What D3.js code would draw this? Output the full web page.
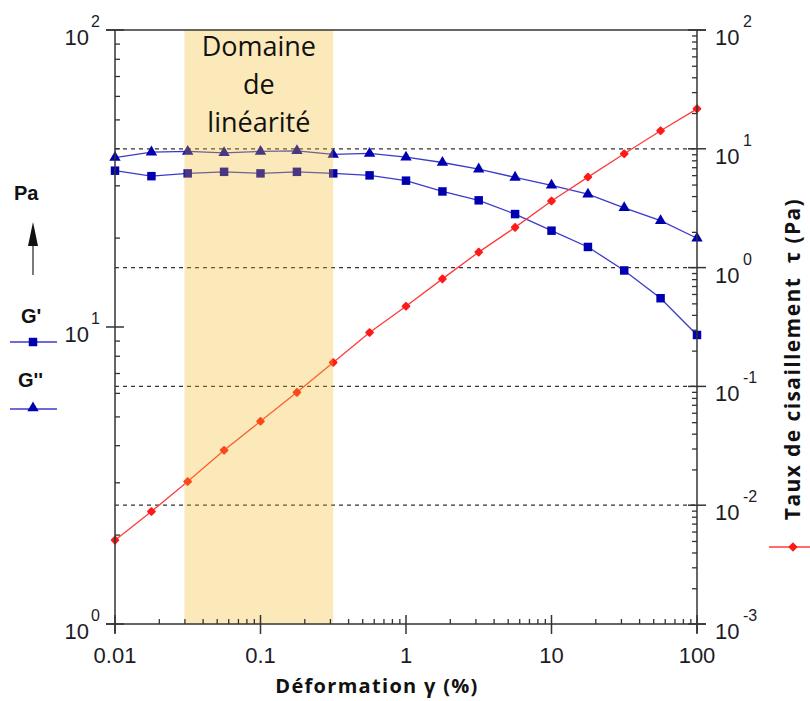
<!DOCTYPE html>
<html>
<head>
<meta charset="utf-8">
<script src="https://cdn.jsdelivr.net/npm/d3@7"></script>
<style>
  body { margin: 0; background: #fff; }
  svg { display: block; }
  .tick-lbl { font-family: "Liberation Sans", Arial, sans-serif; fill: #1c1c28; }
  .title { font-family: "Open Sans", sans-serif; font-weight: bold; fill: #111; white-space: pre; }
  .leg { font-family: "Liberation Sans", Arial, sans-serif; font-weight: bold; fill: #111; }
</style>
</head>
<body>
<svg width="810" height="701"></svg>
<script>
// strain sweep, 4 points per decade
const strain = [0.01, 0.0178, 0.0316, 0.0562, 0.1, 0.178, 0.316, 0.562, 1, 1.78, 3.16, 5.62, 10, 17.8, 31.6, 56.2, 100]
const gPrime = [33.6, 32.2, 32.9, 33.3, 32.9, 33.3, 32.9, 32.4, 31.1, 28.6, 26.7, 24.0, 21.1, 18.6, 15.5, 12.5, 9.4]
const gSecond = [37.2, 38.8, 39.0, 38.6, 39.0, 39.2, 38.1, 38.4, 37.3, 35.8, 34.0, 31.9, 30.0, 28.0, 25.2, 22.8, 19.9]
const tau = [0.00508, 0.00885, 0.0158, 0.029, 0.0508, 0.0891, 0.159, 0.284, 0.473, 0.804, 1.35, 2.18, 3.64, 5.78, 9.08, 14.2, 21.7]

const linearRange = [0.03, 0.316]
const xTicks = [0.01, 0.1, 1, 10, 100]
const xTickLabels = ["0.01", "0.1", "1", "10", "100"]
const leftExp = [0, 1, 2]
const rightExp = [-3, -2, -1, 0, 1, 2]

const m = { top: 30, bottom: 624, left: 115, right: 697 }

const svg = d3.select("svg")

let x = d3.scaleLog([0.01, 100], [m.left, m.right])
let yL = d3.scaleLog([1, 100], [m.bottom, m.top])
let yR = d3.scaleLog([0.001, 100], [m.bottom, m.top])

const minors = (exps) => {
  let out = []
  exps.slice(0, -1).forEach(e => {
    for (let k = 2; k <= 9; k++) out.push(k * Math.pow(10, e))
  })
  return out
}

const axisColor = "#333"

// dashed grid at the right axis decades
svg.append("g").selectAll("line")
  .data([10, 1, 0.1, 0.01])
  .join("line")
  .attr("x1", m.left).attr("x2", m.right)
  .attr("y1", d => yR(d)).attr("y2", d => yR(d))
  .style("stroke", "#333")
  .style("stroke-width", 1.3)
  .style("stroke-dasharray", "4,4")

// series
let line = (ys, yscale) => d3.line()
  .x((d, i) => x(strain[i]))
  .y(d => yscale(d))(ys)

svg.append("path").attr("d", line(gPrime, yL))
  .style("fill", "none").style("stroke", "#3a3acc").style("stroke-width", 1.3)
svg.append("path").attr("d", line(gSecond, yL))
  .style("fill", "none").style("stroke", "#3a3acc").style("stroke-width", 1.3)
svg.append("path").attr("d", line(tau, yR))
  .style("fill", "none").style("stroke", "#ff3b3b").style("stroke-width", 1.3)

let sq = d3.symbol(d3.symbolSquare, 72)
let tri = d3.symbol(d3.symbolTriangle, 56)
let dia = d3.symbol(d3.symbolSquare, 22)

svg.append("g").selectAll("path").data(gPrime).join("path")
  .attr("d", sq)
  .attr("transform", (d, i) => `translate(${x(strain[i])},${yL(d)})`)
  .style("fill", "#0000b0")
svg.append("g").selectAll("path").data(gSecond).join("path")
  .attr("d", tri)
  .attr("transform", (d, i) => `translate(${x(strain[i])},${yL(d)})`)
  .style("fill", "#0000b0")
svg.append("g").selectAll("path").data(tau).join("path")
  .attr("d", dia)
  .attr("transform", (d, i) => `translate(${x(strain[i])},${yR(d)}) rotate(45)`)
  .style("fill", "#ff1a1a")
  .style("stroke", "#ff1a1a").style("stroke-width", 2).style("stroke-linejoin", "round")

// linear domain band (drawn over the curves, translucent)
svg.append("rect")
  .attr("x", x(linearRange[0]))
  .attr("width", x(linearRange[1]) - x(linearRange[0]))
  .attr("y", m.top)
  .attr("height", m.bottom - m.top)
  .style("fill", "rgb(245,182,22)")
  .style("opacity", 0.3)

const cx = (x(linearRange[0]) + x(linearRange[1])) / 2
svg.append("text")
  .attr("x", cx).attr("y", 56)
  .attr("text-anchor", "middle")
  .style("font-family", "'Open Sans', sans-serif")
  .style("font-size", "27px")
  .style("fill", "#111")
  .selectAll("tspan")
  .data(["Domaine", "de", "linéarité"])
  .join("tspan")
  .attr("x", cx)
  .attr("dy", (d, i) => i == 0 ? 0 : 38)
  .text(d => d)

// frame
let append_line = (x1, y1, x2, y2, w) => {
  svg.append("line")
    .attr("x1", x1).attr("y1", y1).attr("x2", x2).attr("y2", y2)
    .style("stroke", axisColor).style("stroke-width", w || 1.5)
}
append_line(m.left - 9, m.top, m.right + 9, m.top)
append_line(m.left - 9, m.bottom, m.right + 9, m.bottom)
append_line(m.left, m.top, m.left, m.bottom + 9)
append_line(m.right, m.top, m.right, m.bottom + 9)

// minor ticks, pointing inside
svg.append("g")
  .attr("transform", `translate(${m.left},0)`)
  .call(d3.axisRight(yL).tickValues(minors(leftExp)).tickSize(5).tickFormat(""))
svg.append("g")
  .attr("transform", `translate(${m.right},0)`)
  .call(d3.axisLeft(yR).tickValues(minors(rightExp)).tickSize(5).tickFormat(""))
svg.append("g")
  .attr("transform", `translate(0,${m.bottom})`)
  .call(d3.axisTop(x).tickValues(minors([-2, -1, 0, 1, 2])).tickSize(5).tickFormat(""))
svg.selectAll(".domain").remove()
svg.selectAll(".tick line").style("stroke", axisColor).style("stroke-width", 1.3)

// major ticks, crossing the axis
leftExp.forEach(e => append_line(m.left - 9, yL(Math.pow(10, e)), m.left + 9, yL(Math.pow(10, e))))
rightExp.forEach(e => append_line(m.right - 9, yR(Math.pow(10, e)), m.right + 9, yR(Math.pow(10, e))))
xTicks.forEach(v => append_line(x(v), m.bottom - 9, x(v), m.bottom + 10))

// tick labels
let pow_label = (xpos, ypos, exp, anchorEnd) => {
  let g = svg.append("g")
  g.append("text").classed("tick-lbl", true)
    .attr("x", xpos).attr("y", ypos + 15)
    .attr("text-anchor", anchorEnd ? "end" : "start")
    .style("font-size", "22px")
    .text("10")
  let ex = anchorEnd ? xpos + 2 : xpos + 28
  g.append("text").classed("tick-lbl", true)
    .attr("x", ex).attr("y", ypos - 3)
    .style("font-size", "16px")
    .text(exp)
}
leftExp.forEach(e => pow_label(89, yL(Math.pow(10, e)), e, true))
rightExp.forEach(e => pow_label(715, yR(Math.pow(10, e)), e, false))

svg.append("g").selectAll("text").data(xTicks).join("text")
  .classed("tick-lbl", true)
  .attr("x", d => x(d)).attr("y", 663)
  .attr("text-anchor", "middle")
  .style("font-size", "22px")
  .text((d, i) => xTickLabels[i])

// axis titles
svg.append("text").classed("title", true)
  .attr("x", 377).attr("y", 693)
  .attr("text-anchor", "middle")
  .style("font-size", "20px")
  .style("letter-spacing", "1.3px")
  .text("Déformation γ (%)")

svg.append("text").classed("title", true)
  .attr("transform", "translate(800,359) rotate(-90)")
  .attr("text-anchor", "middle")
  .style("font-size", "21px")
  .style("letter-spacing", "1.4px")
  .text("Taux de cisaillement  τ (Pa)")

// left legend
svg.append("text").classed("leg", true).attr("x", 14).attr("y", 200).style("font-size", "20px").text("Pa")
append_line(33, 275, 33, 236, 1.3)
svg.append("path").attr("d", "M33,222 L28,246 L38,246 Z").style("fill", "#111")

svg.append("text").classed("leg", true).attr("x", 21).attr("y", 323).style("font-size", "20px").text("G'")
svg.append("line").attr("x1", 10).attr("x2", 57).attr("y1", 342).attr("y2", 342)
  .style("stroke", "#3a3acc").style("stroke-width", 1.3)
svg.append("path").attr("d", sq).attr("transform", "translate(33,342)").style("fill", "#0000b0")

svg.append("text").classed("leg", true).attr("x", 18).attr("y", 387).style("font-size", "20px").text("G''")
svg.append("line").attr("x1", 10).attr("x2", 57).attr("y1", 409).attr("y2", 409)
  .style("stroke", "#3a3acc").style("stroke-width", 1.3)
svg.append("path").attr("d", tri).attr("transform", "translate(33,408)").style("fill", "#0000b0")

// right legend
svg.append("line").attr("x1", 769).attr("x2", 810).attr("y1", 547).attr("y2", 547)
  .style("stroke", "#ff3b3b").style("stroke-width", 1.3)
svg.append("path").attr("d", dia).attr("transform", "translate(793,547) rotate(45)")
  .style("fill", "#ff1a1a").style("stroke", "#ff1a1a").style("stroke-width", 2)
</script>
</body>
</html>
